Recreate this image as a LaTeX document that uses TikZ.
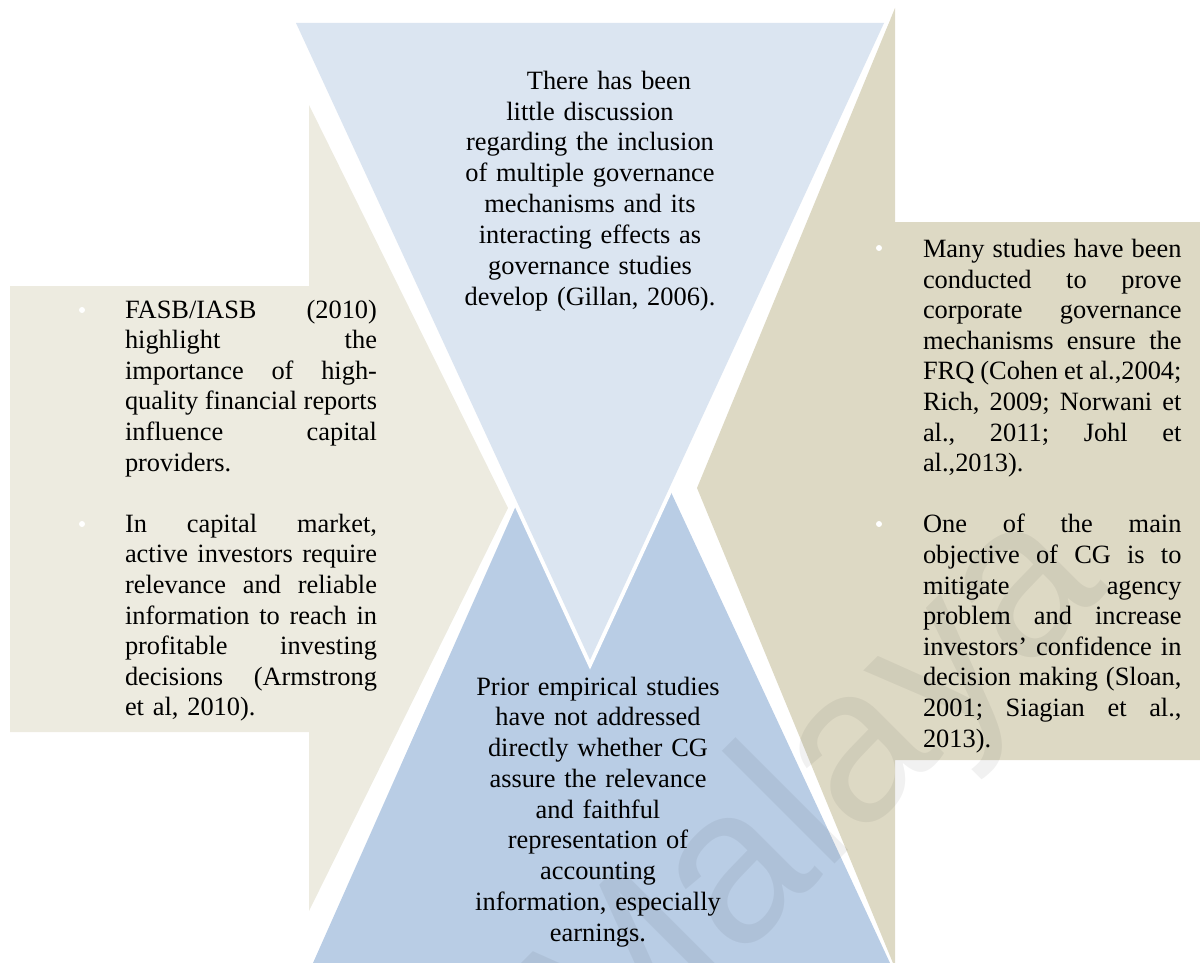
\documentclass[tikz,border=0pt]{standalone}
\usepackage{fontspec}
\setmainfont{Liberation Serif}
\newfontfamily\wmfont{Liberation Sans}

\definecolor{tanlight}{HTML}{EDEBE0}
\definecolor{tandark}{HTML}{DDD9C4}
\definecolor{bluelight}{HTML}{DBE5F1}
\definecolor{bluemid}{HTML}{B9CDE5}

% a justified line of fixed width (stretchable interword spaces)
\newcommand{\jline}[2]{\makebox[#1][s]{\spaceskip=0pt\xspaceskip=0pt\frenchspacing\strut #2}}
\newcommand{\lj}[1]{\jline{252pt}{#1}}
\newcommand{\rj}[1]{\jline{258.5pt}{#1}}

\begin{document}
\begin{tikzpicture}[x=1pt,y=-1pt,
  txt/.style={inner sep=0pt, outer sep=0pt,
    font=\fontsize{26.4}{30.6}\selectfont},
  sidetxt/.style={txt, anchor=north west, align=left},
  midtxt/.style={txt, anchor=north, align=center, text width=320pt},
  bul/.style={circle, fill=white, inner sep=0pt, minimum size=6pt},
  halo/.style={white, line width=8pt, line join=miter},
  wm/.style={font=\wmfont\fontsize{220}{220}\selectfont, text=black,
    text opacity=0.055, rotate=45, inner sep=0pt, anchor=base west}
]
\useasboundingbox (0,0) rectangle (1200,963);

% lower triangle (its apex sits behind the upper one)
\fill[bluemid] (594.8,328.3) -- (313,963) -- (890,963) -- cycle;

% left arrow pointing right
\fill[tanlight] (10,286) -- (309,286) -- (309,105) -- (508,508)
  -- (309,911) -- (309,732) -- (10,732) -- cycle;

% right arrow pointing left
\fill[tandark] (1200,222) -- (895,222) -- (895,8) -- (697,488)
  -- (895,968) -- (895,760) -- (1200,760) -- cycle;

% upper triangle with a white rim
\draw[halo] (296,23) -- (884,23) -- (590,660) -- cycle;
\fill[bluelight] (296,23) -- (884,23) -- (590,660) -- cycle;

% bullets
\node[bul] (lb1) at (82,310) {};
\node[bul] (lb2) at (82,524) {};
\node[bul] (rb1) at (879,248) {};
\node[bul] (rb2) at (879,524) {};

% left text
\node[sidetxt, text width=252pt] (ltext) at (125,296.6) {%
\lj{FASB/IASB (2010)}\\
\lj{highlight the}\\
\lj{importance of high-}\\
\lj{quality financial reports}\\
\lj{influence capital}\\
\strut providers.\\
\strut\\
\lj{In capital market,}\\
\lj{active investors require}\\
\lj{relevance and reliable}\\
\lj{information to reach in}\\
\lj{profitable investing}\\
\lj{decisions (Armstrong}\\
\strut et al, 2010).};

% right text
\node[sidetxt, text width=258.5pt] (rtext) at (923,236.1) {%
\rj{Many studies have been}\\
\rj{conducted to prove}\\
\rj{corporate governance}\\
\rj{mechanisms ensure the}\\
\rj{FRQ (Cohen et al.,2004;}\\
\rj{Rich, 2009; Norwani et}\\
\rj{al., 2011; Johl et}\\
\strut al.,2013).\\
\strut\\
\rj{One of the main}\\
\rj{objective of CG is to}\\
\rj{mitigate agency}\\
\rj{problem and increase}\\
\rj{investors’ confidence in}\\
\rj{decision making (Sloan,}\\
\rj{2001; Siagian et al.,}\\
\strut 2013).};

% upper triangle text
\node[midtxt, font=\fontsize{26.4}{30.9}\selectfont] (ttext) at (590,67.5) {%
\strut\hspace*{38pt}There has been\\
\strut little discussion\\
\strut regarding the inclusion\\
\strut of multiple governance\\
\strut mechanisms and its\\
\strut interacting effects as\\
\strut governance studies\\
\strut develop (Gillan, 2006).};

% lower triangle text
\node[midtxt, font=\fontsize{26.4}{30.75}\selectfont] (btext) at (598,673.5) {%
\strut Prior empirical studies\\
\strut have not addressed\\
\strut directly whether CG\\
\strut assure the relevance\\
\strut and faithful\\
\strut representation of\\
\strut accounting\\
\strut information, especially\\
\strut earnings.};

% watermark
\node[wm] (wmark) at (608,1091) {Malaya};
\end{tikzpicture}
\end{document}
